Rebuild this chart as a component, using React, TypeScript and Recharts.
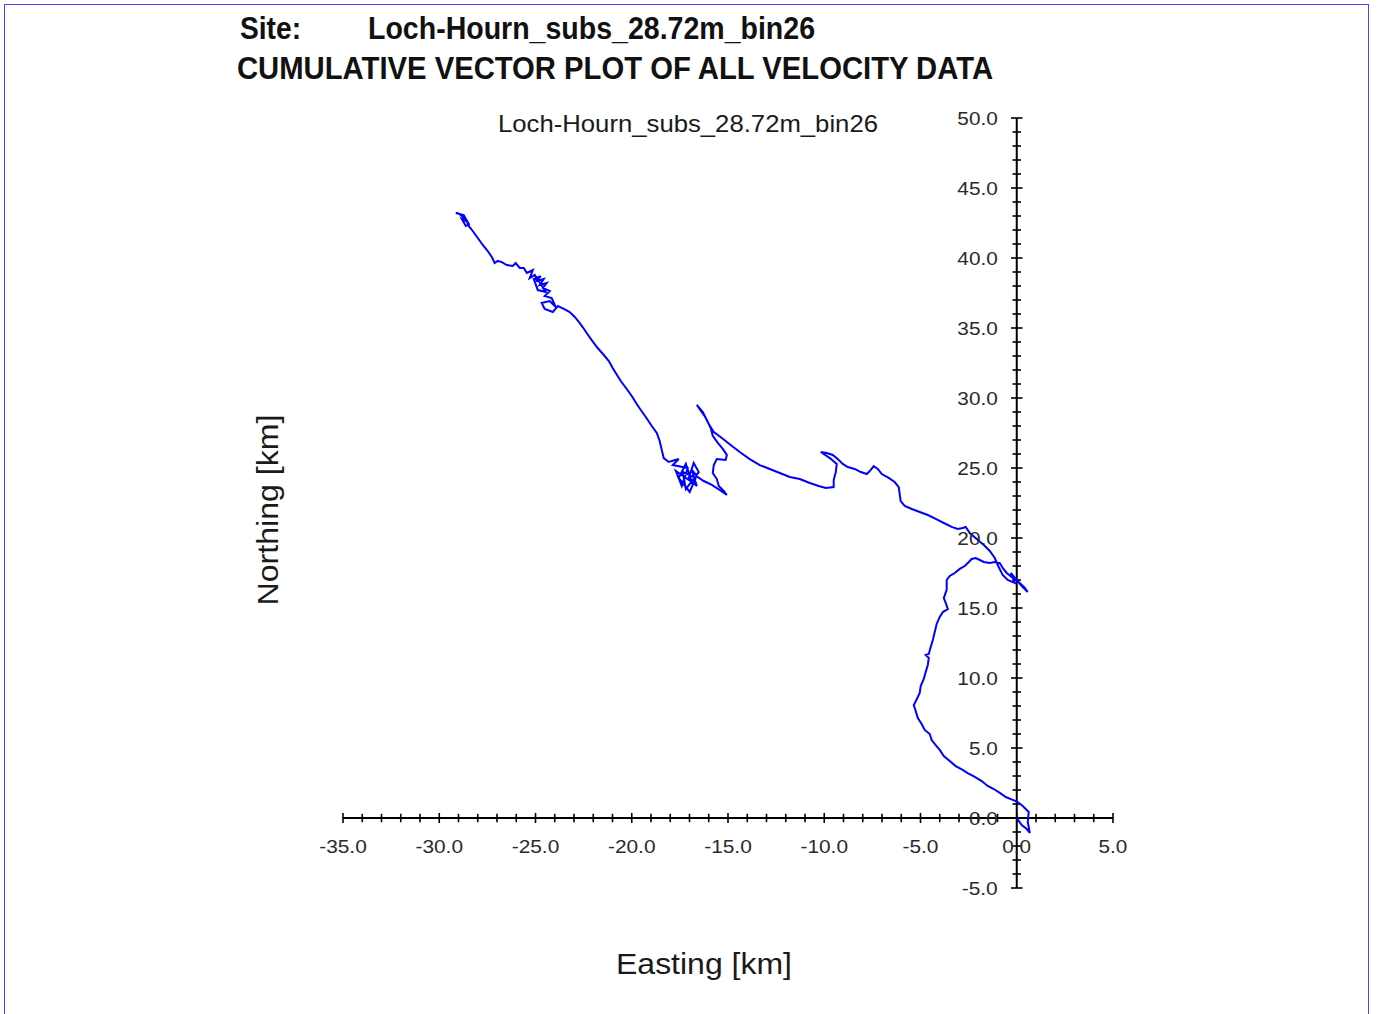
import React from 'react';
import { LineChart, Line, XAxis, YAxis, ReferenceLine, ReferenceDot } from 'recharts';

// cumulative displacement, km (origin first)
const eastingKm = [
  0, 0.26, 0.52, 0.68, 0.57, 0.62, 0.31, 0.05, -0.21, -0.57, -0.88, -1.19, -1.51, -1.82, -2.18, -2.55,
  -2.81, -3.17, -3.48, -3.79, -4.0, -4.21, -4.42, -4.52, -4.78, -4.94, -5.14, -5.25, -5.35, -5.19, -5.04,
  -4.99, -4.83, -4.73, -4.62, -4.57, -4.73, -4.57, -4.47, -4.36, -4.26, -4.16, -4.0, -3.84, -3.58, -3.69,
  -3.79, -3.64, -3.64, -3.48, -3.22, -2.96, -2.7, -2.49, -2.34, -2.13, -1.92, -1.71, -1.4, -1.14, -0.88,
  -0.73, -0.52, -0.26, 0.0, 0.21, 0.42, 0.57, 0.26, -0.05, -0.31, -0.1, -0.47, -0.73, -0.94, -1.14, -1.4,
  -1.71, -2.08, -2.44, -2.65, -2.81, -3.06, -3.38, -3.79, -4.21, -4.62, -5.04, -5.45, -5.82, -6.03, -6.08,
  -6.13, -6.34, -6.65, -7.01, -7.22, -7.43, -7.58, -7.79, -8.1, -8.42, -8.78, -9.04, -9.3, -9.56, -9.87,
  -10.18, -9.71, -9.35, -9.4, -9.51, -9.51, -9.92, -10.29, -10.75, -11.27, -11.79, -12.31, -12.83, -13.35,
  -13.87, -14.39, -14.86, -15.32, -15.74, -16.0, -16.21, -16.47, -16.62, -16.31, -16.1, -15.9, -15.79,
  -15.53, -15.27, -15.06, -15.12, -15.58, -15.74, -15.79, -15.58, -15.48, -15.22, -15.06, -15.43, -15.84,
  -16.26, -16.57, -16.88, -16.62, -17.04, -16.78, -16.52, -17.19, -17.35, -16.68, -16.99, -17.56, -17.19,
  -16.88, -17.71, -17.4, -17.09, -17.87, -17.56, -18.08,
  -18.34, -18.44, -18.55, -18.7, -18.96, -19.27, -19.53, -19.74, -20.0, -20.26, -20.57, -20.83,
  -20.99, -21.19, -21.45, -21.77, -22.08, -22.34, -22.55, -22.75, -22.96, -23.22, -23.53, -23.84,
  -24.1, -24.52, -24.68, -24.26, -23.95, -24.16, -24.52, -24.26, -24.62, -24.42, -24.78, -24.57, -24.94,
  -24.73, -25.09, -24.88, -24.47, -24.73, -25.04, -25.3, -25.14, -25.45, -25.61,
  -25.82, -26.03, -26.18, -26.49, -26.75, -26.96, -27.12, -27.27, -27.48, -27.74, -28.0, -28.26, -28.47,
  -28.57, -28.78, -28.94, -29.14, -28.73, -28.52, -28.83, -28.62, -28.42,
];

const northingKm = [
  0, -0.5, -0.79, -1.07, -0.29, 0.43, 0.86, 1.14, 1.29, 1.5, 1.79, 2.07, 2.29, 2.64, 2.93, 3.21,
  3.43, 3.71, 4.07, 4.43, 4.86, 5.21, 5.57, 6.0, 6.29, 6.71, 7.14, 7.64, 8.07, 8.5, 8.93,
  9.43, 9.93, 10.43, 10.93, 11.43, 11.64, 11.71, 12.21, 12.71, 13.29, 13.86, 14.36, 14.71, 14.93, 15.36,
  15.71, 16.29, 17.0, 17.29, 17.5, 17.79, 18.0, 18.29, 18.5, 18.57, 18.43, 18.29, 18.21, 18.29, 18.21,
  17.86, 17.5, 17.21, 17.0, 16.71, 16.43, 16.14, 16.57, 17.07, 17.5, 16.79, 17.0, 17.36, 17.93, 18.57, 19.07,
  19.5, 19.93, 20.36, 20.79, 20.71, 20.64, 20.79, 21.07, 21.36, 21.64, 21.86, 22.07, 22.29, 22.64, 23.14,
  23.64, 24.0, 24.29, 24.57, 24.93, 25.14, 24.86, 24.57, 24.71, 24.93, 25.07, 25.29, 25.64, 25.93, 26.07,
  26.14, 25.71, 25.29, 24.71, 24.14, 23.64, 23.57, 23.71, 23.93, 24.21, 24.36, 24.64, 24.93, 25.21,
  25.64, 26.14, 26.64, 27.14, 27.57, 28.14, 28.71, 29.21, 29.5, 29.0, 28.43, 27.86, 27.29,
  26.79, 26.36, 25.93, 25.57, 25.64, 25.21, 24.64, 24.21, 23.71, 23.36, 23.07, 23.43, 23.79,
  24.07, 24.36, 24.86, 23.71, 24.29, 25.36, 24.71, 23.5, 24.71, 24.29, 23.29, 24.29, 25.29,
  24.0, 24.79, 23.71, 25.0, 25.21, 25.64, 25.43,
  25.71, 26.29, 26.93, 27.5, 28.0, 28.64, 29.14, 29.57, 30.14, 30.64, 31.21, 31.79,
  32.14, 32.64, 33.07, 33.57, 34.14, 34.64, 35.07, 35.43, 35.79, 36.14, 36.36, 36.57,
  36.14, 36.36, 36.79, 36.93, 36.5, 37.14, 37.29, 37.64, 37.86, 38.21, 38.07, 38.5, 38.36,
  38.71, 38.5, 37.71, 37.57, 38.14, 38.79, 38.57, 39.14, 38.93, 39.29,
  39.29, 39.64, 39.43, 39.5, 39.71, 39.79, 39.64, 40.07, 40.5, 40.93, 41.43, 41.93, 42.29,
  42.64, 42.93, 43.14, 43.21, 43.07, 42.57, 42.79, 42.29, 42.43,
];

const xTickLabels = [-35, -30, -25, -20, -15, -10, -5, 0, 5];
const yTickLabels = [50, 45, 40, 35, 30, 25, 20, 15, 10, 5, 0, -5];

const siteName = 'Loch-Hourn_subs_28.72m_bin26';
const plotTitle = 'CUMULATIVE VECTOR PLOT OF ALL VELOCITY DATA';

const data = eastingKm.map((x, i) => ({ x, y: northingKm[i] }));

const range = (a: number, b: number) => {
  const out: number[] = [];
  for (let v = a; v <= b; v++) out.push(v);
  return out;
};
const xMinor = range(-35, 5);
const yMinor = range(-5, 50);

const tickFont = "'Liberation Sans', Arial, sans-serif";
const labelWidth = (s: string) =>
  s.split('').reduce((w, c) => w + (c === '.' ? 5.6 : c === '-' ? 7.2 : 11.6), 0);

const XLabel = ({ viewBox, text }: any) => (
  <text
    x={viewBox.x}
    y={viewBox.y + 35}
    textAnchor="middle"
    fontFamily={tickFont}
    fontSize={19}
    fill="#2a2a2a"
    textLength={labelWidth(text)}
    lengthAdjust="spacingAndGlyphs"
  >
    {text}
  </text>
);

const YLabel = ({ viewBox, text }: any) => (
  <text
    x={viewBox.x - 19}
    y={viewBox.y + 7}
    textAnchor="end"
    fontFamily={tickFont}
    fontSize={19}
    fill="#2a2a2a"
    textLength={labelWidth(text)}
    lengthAdjust="spacingAndGlyphs"
  >
    {text}
  </text>
);

export default function App() {
  return (
    <div style={{ position: 'absolute', left: 0, top: 0, width: 1378, height: 1014, background: '#fff', overflow: 'hidden' }}>
      <div
        style={{
          position: 'absolute',
          left: 4,
          top: 4,
          width: 1365,
          height: 1030,
          border: '1px solid #4646f0',
          boxSizing: 'border-box',
        }}
      />
      <svg width={1378} height={1014} style={{ position: 'absolute', left: 0, top: 0 }}>
        <g fontFamily="'Liberation Sans Narrow', 'Arial Narrow', 'Liberation Sans', Arial, sans-serif" fontWeight="bold" fill="#111">
          <text x={240} y={39} fontSize={32} textLength={61} lengthAdjust="spacingAndGlyphs">Site:</text>
          <text x={368} y={39} fontSize={32} textLength={447} lengthAdjust="spacingAndGlyphs">{siteName}</text>
          <text x={237} y={79} fontSize={32} textLength={756} lengthAdjust="spacingAndGlyphs">{plotTitle}</text>
        </g>
        <g fontFamily={tickFont} fill="#1a1a1a">
          <text x={498} y={132} fontSize={24} textLength={380} lengthAdjust="spacingAndGlyphs">{siteName}</text>
          <text x={616} y={974} fontSize={30} textLength={176} lengthAdjust="spacingAndGlyphs">Easting [km]</text>
          <text
            x={268}
            y={520}
            fontSize={30}
            textAnchor="middle"
            transform="rotate(-90 268 510)"
            textLength={191}
            lengthAdjust="spacingAndGlyphs"
          >
            Northing [km]
          </text>
        </g>
      </svg>
      <div style={{ position: 'absolute', left: 0, top: 0 }}>
        <LineChart width={1378} height={1014} data={data} margin={{ top: 118, right: 265, bottom: 126, left: 343 }}>
          <XAxis type="number" dataKey="x" domain={[-35, 5]} hide />
          <YAxis type="number" domain={[-5, 50]} hide />
          <ReferenceLine y={0} stroke="#000" strokeWidth={2} />
          <ReferenceLine x={0} stroke="#000" strokeWidth={2} />
          {xMinor.map((v) => (
            <ReferenceLine
              key={`xt${v}`}
              segment={[{ x: v, y: v % 5 === 0 ? -0.36 : -0.3 }, { x: v, y: v % 5 === 0 ? 0.36 : 0.3 }]}
              stroke="#000"
              strokeWidth={1.6}
            />
          ))}
          {yMinor.map((v) => (
            <ReferenceLine
              key={`yt${v}`}
              segment={[{ x: v % 5 === 0 ? -0.3 : -0.22, y: v }, { x: v % 5 === 0 ? 0.3 : 0.22, y: v }]}
              stroke="#000"
              strokeWidth={1.6}
            />
          ))}
          {xTickLabels.map((v) => (
            <ReferenceDot
              key={`xl${v}`}
              x={v}
              y={0}
              r={0}
              stroke="none"
              fill="none"
              label={(p: any) => <XLabel {...p} text={v.toFixed(1)} />}
            />
          ))}
          {yTickLabels.map((v) => (
            <ReferenceDot
              key={`yl${v}`}
              x={0}
              y={v}
              r={0}
              stroke="none"
              fill="none"
              label={(p: any) => <YLabel {...p} text={v.toFixed(1)} />}
            />
          ))}
          <Line
            type="linear"
            dataKey="y"
            stroke="#0000ff"
            strokeWidth={2}
            dot={false}
            activeDot={false}
            isAnimationActive={false}
          />
        </LineChart>
      </div>
    </div>
  );
}
